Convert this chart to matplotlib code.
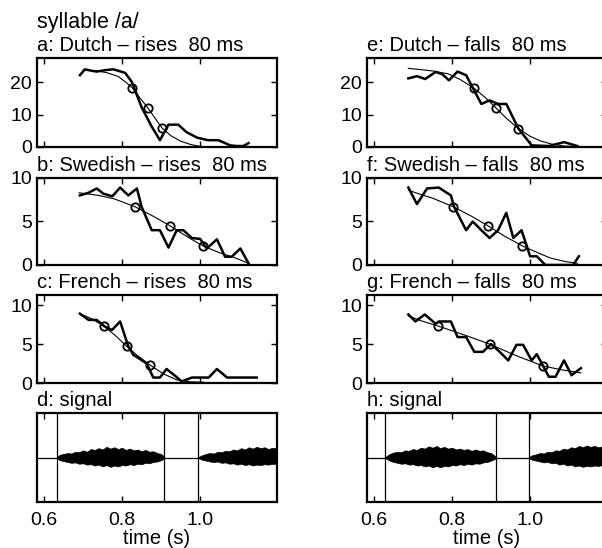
import numpy as np
import matplotlib.pyplot as plt

plt.rcParams['font.family'] = ['Liberation Sans', 'DejaVu Sans']
plt.rcParams['font.size'] = 14

###################################################
##################### Datos #######################
###################################################
# a: Dutch - rises
aThickX = [0.692, 0.705, 0.72, 0.735, 0.76, 0.778, 0.808, 0.825, 0.85, 0.875, 0.897, 0.919, 0.944, 0.965, 0.992, 1.02, 1.047, 1.077, 1.095, 1.111, 1.124]
aThickY = [22.2, 24, 23.6, 23.3, 23.8, 24, 22.9, 20.1, 12.3, 6.5, 2.1, 6.9, 6.9, 4.6, 2.9, 2.1, 2.1, 0.5, 0.3, 0.3, 1.2]
aThinX = [0.70, 0.73, 0.76, 0.79, 0.81, 0.826, 0.845, 0.866, 0.885, 0.903, 0.925, 0.95, 0.975, 1.0, 1.01]
aThinY = [23.8, 23.6, 23.0, 21.8, 20.0, 18.3, 15.3, 12.1, 8.8, 5.8, 3.5, 1.8, 0.8, 0.2, 0.1]
aCircX = [0.826, 0.866, 0.903]
aCircY = [18.3, 12.1, 5.8]

# e: Dutch - falls
eThickX = [0.688, 0.71, 0.731, 0.758, 0.775, 0.792, 0.814, 0.836, 0.853, 0.875, 0.896, 0.918, 0.939, 0.970, 1.004, 1.048, 1.087, 1.121]
eThickY = [21.2, 21.9, 21.0, 23.2, 22.5, 20.6, 23.3, 22.2, 18.3, 13.3, 14.4, 13.3, 13.3, 5.7, 0.5, 0.3, 1.5, 0.3]
eThinX = [0.688, 0.72, 0.75, 0.79, 0.82, 0.855, 0.885, 0.913, 0.94, 0.970, 1.0, 1.026, 1.055, 1.087, 1.12]
eThinY = [24.3, 23.9, 23.5, 22.6, 20.9, 18.3, 15.3, 12.0, 8.8, 5.7, 3.3, 1.9, 0.9, 0.3, 0.1]
eCircX = [0.855, 0.913, 0.970]
eCircY = [18.3, 12.0, 5.7]

# b: Swedish - rises
bThickX = [0.692, 0.714, 0.735, 0.752, 0.775, 0.795, 0.816, 0.838, 0.85, 0.876, 0.897, 0.919, 0.94, 0.957, 0.979, 1.0, 1.017, 1.043, 1.064, 1.081, 1.103, 1.124]
bThickY = [8.0, 8.3, 8.8, 8.2, 7.9, 8.9, 8.0, 8.8, 6.7, 4.0, 4.0, 2.0, 4.0, 4.0, 3.1, 3.0, 1.9, 2.95, 0.95, 0.95, 1.9, 0.2]
bThinX = [0.69, 0.74, 0.78, 0.833, 0.88, 0.923, 0.965, 1.007, 1.05, 1.085, 1.124]
bThinY = [8.3, 8.0, 7.6, 6.7, 5.6, 4.5, 3.3, 2.2, 1.4, 0.9, 0.2]
bCircX = [0.833, 0.923, 1.007]
bCircY = [6.7, 4.5, 2.2]

# f: Swedish - falls
fThickX = [0.688, 0.71, 0.736, 0.766, 0.797, 0.805, 0.836, 0.853, 0.875, 0.896, 0.918, 0.939, 0.957, 0.978, 1.0, 1.017, 1.039, 1.08, 1.11, 1.125]
fThickY = [8.9, 7.0, 8.8, 8.9, 8.0, 6.7, 4.0, 5.0, 4.0, 3.1, 4.0, 6.0, 3.1, 4.0, 1.0, 1.0, 0.0, 0.0, 0.0, 1.0]
fThinX = [0.688, 0.72, 0.749, 0.803, 0.85, 0.892, 0.935, 0.980, 1.02, 1.052, 1.09, 1.121]
fThinY = [8.6, 8.1, 7.7, 6.7, 5.6, 4.5, 3.3, 2.2, 1.4, 0.8, 0.4, 0.2]
fCircX = [0.803, 0.892, 0.980]
fCircY = [6.7, 4.5, 2.2]

# c: French - rises
cThickX = [0.692, 0.714, 0.735, 0.754, 0.774, 0.795, 0.816, 0.829, 0.845, 0.863, 0.880, 0.897, 0.914, 0.934, 0.953, 0.979, 1.0, 1.022, 1.043, 1.069, 1.1, 1.145]
cThickY = [8.9, 8.1, 8.1, 7.3, 6.8, 7.9, 4.7, 3.6, 3.1, 2.5, 0.7, 0.7, 1.8, 1.0, 0.2, 0.7, 0.7, 0.7, 1.8, 0.7, 0.7, 0.7]
cThinX = [0.692, 0.72, 0.754, 0.785, 0.812, 0.84, 0.872, 0.905, 0.94, 0.975, 1.008]
cThinY = [8.9, 8.3, 7.3, 6.0, 4.7, 3.5, 2.3, 1.2, 0.4, 0.15, 0.1]
cCircX = [0.754, 0.812, 0.872]
cCircY = [7.3, 4.7, 2.3]

# g: French - falls
gThickX = [0.688, 0.706, 0.730, 0.758, 0.766, 0.797, 0.814, 0.836, 0.857, 0.879, 0.900, 0.922, 0.944, 0.965, 0.982, 1.004, 1.017, 1.03, 1.048, 1.065, 1.087, 1.106, 1.13]
gThickY = [8.8, 7.9, 8.8, 7.6, 7.9, 7.9, 5.9, 5.9, 4.0, 4.0, 5.0, 4.0, 2.9, 4.9, 4.9, 2.9, 3.7, 2.5, 0.8, 0.8, 2.9, 1.0, 1.9]
gThinX = [0.688, 0.72, 0.765, 0.83, 0.896, 0.96, 1.032, 1.08, 1.13]
gThinY = [8.6, 8.0, 7.3, 6.2, 5.0, 3.6, 2.2, 1.7, 1.3]
gCircX = [0.765, 0.896, 1.032]
gCircY = [7.3, 5.0, 2.2]

# d: envolvente de la señal (izquierda)
dSeg1X = [0.633, 0.64, 0.65, 0.66, 0.67, 0.68, 0.69, 0.70, 0.71, 0.72, 0.73, 0.74, 0.75, 0.76, 0.77,
          0.78, 0.79, 0.80, 0.81, 0.82, 0.83, 0.84, 0.85, 0.86, 0.87, 0.88, 0.89, 0.90, 0.908]
dSeg1Up = [0.01, 0.06, 0.08, 0.1, 0.09, 0.13, 0.12, 0.16, 0.13, 0.19, 0.17, 0.21, 0.18, 0.24, 0.2,
           0.23, 0.19, 0.22, 0.17, 0.2, 0.16, 0.18, 0.14, 0.17, 0.13, 0.14, 0.1, 0.08, 0.02]
dSeg1Lo = [-0.01, -0.06, -0.08, -0.1, -0.12, -0.11, -0.14, -0.13, -0.16, -0.15, -0.18, -0.16, -0.2, -0.17, -0.21,
           -0.18, -0.2, -0.17, -0.18, -0.15, -0.17, -0.14, -0.15, -0.12, -0.13, -0.1, -0.09, -0.06, -0.02]
dSeg2X = [0.995, 1.005, 1.015, 1.025, 1.035, 1.045, 1.055, 1.065, 1.075, 1.085, 1.095,
          1.105, 1.115, 1.125, 1.135, 1.145, 1.155, 1.165, 1.175, 1.185, 1.197]
dSeg2Up = [0.01, 0.05, 0.08, 0.1, 0.09, 0.13, 0.12, 0.15, 0.14, 0.18, 0.16,
           0.21, 0.18, 0.23, 0.2, 0.24, 0.21, 0.23, 0.19, 0.22, 0.2]
dSeg2Lo = [-0.01, -0.05, -0.07, -0.09, -0.1, -0.09, -0.12, -0.11, -0.14, -0.13, -0.16,
           -0.14, -0.17, -0.15, -0.18, -0.16, -0.17, -0.15, -0.16, -0.14, -0.15]
dLines = [0.633, 0.908, 0.995]

# h: envolvente de la señal (derecha)
hSeg1X = [0.629, 0.64, 0.65, 0.66, 0.67, 0.68, 0.69, 0.70, 0.71, 0.72, 0.73, 0.74, 0.75, 0.76, 0.77,
          0.78, 0.79, 0.80, 0.81, 0.82, 0.83, 0.84, 0.85, 0.86, 0.87, 0.88, 0.89, 0.90, 0.912]
hSeg1Up = [0.01, 0.08, 0.11, 0.13, 0.12, 0.16, 0.15, 0.19, 0.17, 0.22, 0.2, 0.25, 0.22, 0.26, 0.21,
           0.24, 0.2, 0.22, 0.18, 0.2, 0.17, 0.19, 0.15, 0.18, 0.15, 0.16, 0.12, 0.1, 0.02]
hSeg1Lo = [-0.01, -0.07, -0.1, -0.12, -0.14, -0.13, -0.16, -0.15, -0.18, -0.17, -0.2, -0.18, -0.22, -0.19, -0.22,
           -0.19, -0.2, -0.17, -0.18, -0.15, -0.17, -0.14, -0.16, -0.13, -0.14, -0.11, -0.1, -0.07, -0.02]
hSeg2X = [0.997, 1.005, 1.015, 1.025, 1.035, 1.045, 1.055, 1.065, 1.075, 1.085, 1.095,
          1.105, 1.115, 1.125, 1.135, 1.145, 1.155, 1.165, 1.175, 1.185, 1.197]
hSeg2Up = [0.01, 0.05, 0.07, 0.1, 0.09, 0.13, 0.12, 0.16, 0.15, 0.2, 0.18,
           0.23, 0.21, 0.26, 0.23, 0.27, 0.24, 0.26, 0.23, 0.25, 0.24]
hSeg2Lo = [-0.01, -0.05, -0.07, -0.09, -0.11, -0.1, -0.13, -0.12, -0.16, -0.14, -0.18,
           -0.16, -0.2, -0.18, -0.21, -0.19, -0.2, -0.18, -0.19, -0.17, -0.18]
hLines = [0.629, 0.912, 0.997]

xTicks = [0.6, 0.8, 1.0]
xTickLabels = ['0.6', '0.8', '1.0']

###################################################
#################### Funciones ####################
###################################################
def styleAxes(ax):
    ax.set_xlim(0.582, 1.197)
    ax.set_xticks(xTicks)
    ax.tick_params(direction='in', top=True, right=True, length=4, width=1)
    ax.tick_params(axis='y', pad=3.5)
    ax.tick_params(axis='x', pad=7)
    for s in ax.spines.values():
        s.set_linewidth(1.6)

def drawPanel(ax, title, thickX, thickY, thinX, thinY, circX, circY, ytop, yticks):
    ax.plot(thinX, thinY, color='black', linewidth=0.8)
    ax.plot(thickX, thickY, color='black', linewidth=1.8)
    ax.plot(circX, circY, 'o', markerfacecolor='none', markeredgecolor='black', markersize=6, markeredgewidth=1.3)
    ax.set_ylim(0, ytop)
    ax.set_yticks(yticks)
    ax.set_title(title, loc='left', pad=5, fontsize=14.5)
    styleAxes(ax)
    ax.set_xticklabels([])

def drawSignal(ax, title, x1, up1, lo1, x2, up2, lo2, lines):
    ax.axhline(0, color='black', linewidth=0.9)
    ax.fill_between(x1, lo1, up1, color='black', linewidth=0.5)
    ax.fill_between(x2, lo2, up2, color='black', linewidth=0.5)
    for v in lines:
        ax.axvline(v, color='black', linewidth=0.9)
    ax.set_ylim(-1, 1)
    ax.set_yticks([])
    ax.set_title(title, loc='left', pad=5, fontsize=14.5)
    styleAxes(ax)
    ax.set_xticklabels(xTickLabels)
    ax.set_xlabel('time (s)', labelpad=0, fontsize=14.5)

###################################################
################ Bloque Principal #################
###################################################
fig = plt.figure(figsize=(6.02, 5.48), dpi=100)

W, H = 602.0, 548.0
lefts = [37, 367]
rows = [(58, 147), (178, 265), (295, 383), (413, 502)]
axw = 240

def makeAx(col, row):
    top, bot = rows[row]
    return fig.add_axes([lefts[col] / W, 1 - bot / H, axw / W, (bot - top) / H])

drawPanel(makeAx(0, 0), 'a: Dutch \u2013 rises  80 ms', aThickX, aThickY, aThinX, aThinY, aCircX, aCircY, 27.5, [0, 10, 20])
drawPanel(makeAx(0, 1), 'b: Swedish \u2013 rises  80 ms', bThickX, bThickY, bThinX, bThinY, bCircX, bCircY, 10, [0, 5, 10])
drawPanel(makeAx(0, 2), 'c: French \u2013 rises  80 ms', cThickX, cThickY, cThinX, cThinY, cCircX, cCircY, 11.3, [0, 5, 10])
drawSignal(makeAx(0, 3), 'd: signal', dSeg1X, dSeg1Up, dSeg1Lo, dSeg2X, dSeg2Up, dSeg2Lo, dLines)

drawPanel(makeAx(1, 0), 'e: Dutch \u2013 falls  80 ms', eThickX, eThickY, eThinX, eThinY, eCircX, eCircY, 27.5, [0, 10, 20])
drawPanel(makeAx(1, 1), 'f: Swedish \u2013 falls  80 ms', fThickX, fThickY, fThinX, fThinY, fCircX, fCircY, 10, [0, 5, 10])
drawPanel(makeAx(1, 2), 'g: French \u2013 falls  80 ms', gThickX, gThickY, gThinX, gThinY, gCircX, gCircY, 11.3, [0, 5, 10])
drawSignal(makeAx(1, 3), 'h: signal', hSeg1X, hSeg1Up, hSeg1Lo, hSeg2X, hSeg2Up, hSeg2Lo, hLines)

fig.text(37 / W, 1 - 28 / H, 'syllable /a/', fontsize=15.5, va='baseline', ha='left')

fig.savefig('out.png', dpi=100)
